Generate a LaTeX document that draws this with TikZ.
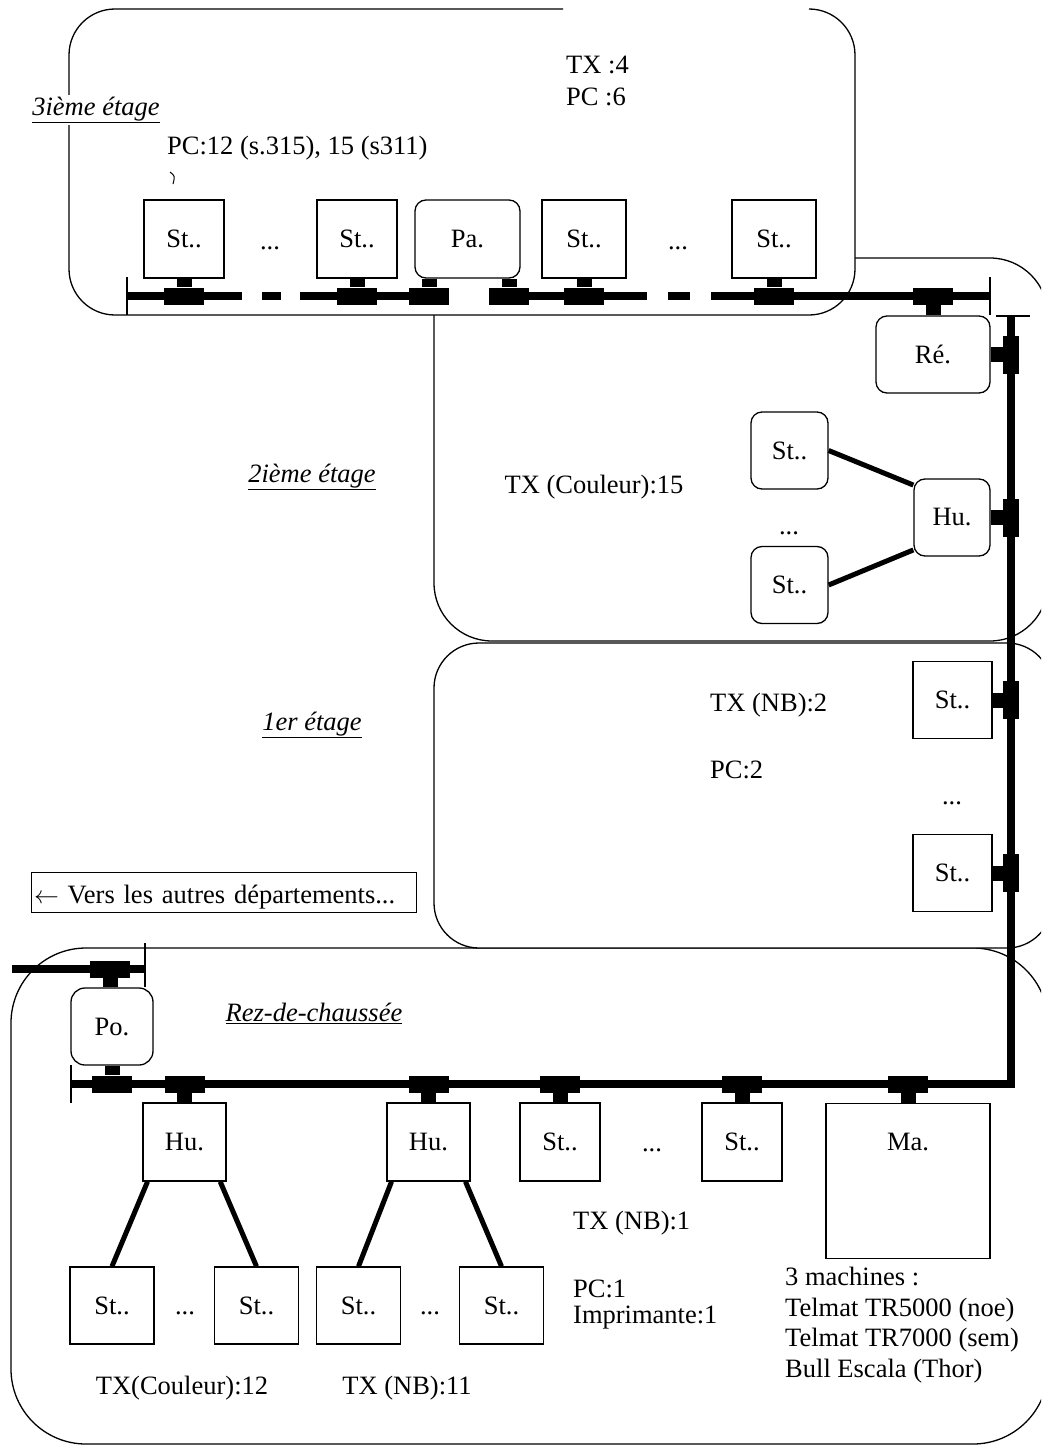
\documentclass[tikz,border=0pt]{standalone}
\usepackage{fontspec}
\setmainfont{Liberation Serif}

\begin{document}
\begin{tikzpicture}[x=1pt, y=-1pt, inner sep=0pt, font=\fontsize{26.5}{30.5}\selectfont,
  region/.style={draw, line width=1.3pt, fill=white},
  sta/.style={draw, line width=1.3pt, minimum width=80pt, minimum height=78pt},
  rsta/.style={sta, rounded corners=11pt},
  bus/.style={line width=8pt},
  tee/.style={fill, minimum width=40pt, minimum height=17pt},
  vtee/.style={fill, minimum width=16pt, minimum height=38pt},
  stem/.style={line width=15pt},
  link/.style={line width=5pt},
  term/.style={line width=1.3pt},
  etage/.style={fill=white, inner sep=2pt}]
  \useasboundingbox (0,0) rectangle (1041,1445);
  \clip (0,0) rectangle (1041,1445);

  % les etages
  \draw[region, rounded corners=75pt] (11,948) rectangle (1048,1444);
  \draw[region, rounded corners=45pt] (434,643) rectangle (1052,948);
  \draw[region, rounded corners=58pt] (434,258) rectangle (1048,641);
  \fill[white, rounded corners=46pt] (69,9) rectangle (855,315);
  \draw[line width=1.3pt, rounded corners=46pt] (563,9) -- (69,9) -- (69,315) -- (855,315) -- (855,9) -- (809,9);

  \node[etage] (e3) at (96,110) {\underline{\itshape 3ième étage}};
  \node (e2) at (312,477) {\underline{\itshape 2ième étage}};
  \node (e1) at (312,725) {\underline{\itshape 1er étage}};
  \node (e0) at (314,1013) {\underline{\itshape Rez-de-chaussée}};

  % textes
  \node[anchor=west] (tx3) at (566,65) {TX :4};
  \node[anchor=west] (pc3) at (566,97) {PC :6};
  \node[anchor=west] (pc3b) at (167,148) {PC:12 (s.315), 15 (s311)};
  \draw[line width=1pt] (170,172) .. controls (175,176) .. (173,184);
  \node (tx2) at (594,487) {TX (Couleur):15};
  \node[anchor=west] (tx1) at (710,705) {TX (NB):2};
  \node[anchor=west] (pc1) at (710,770) {PC:2};
  \node[draw, line width=1pt, inner sep=3pt, text width=379pt, align=left, minimum height=40pt, text height=25pt, text depth=2pt] (vers) at (223.5,892) {$\leftarrow$ Vers les autres départements...};
  \node[anchor=west] (tx0) at (573,1223) {TX (NB):1};
  \node[anchor=west] (pc0) at (573,1289) {PC:1};
  \node[anchor=west] (im0) at (573,1318) {Imprimante:1};
  \node[anchor=west, align=left] (mach) at (785,1325) {3 machines :\\Telmat TR5000 (noe)\\Telmat TR7000 (sem)\\Bull Escala (Thor)};
  \node (txc) at (182,1388) {TX(Couleur):12};
  \node (txn) at (407,1388) {TX (NB):11};

  % 3ieme etage
  \node[sta] (s31) at (184,239) {St..};
  \node (d31) at (270,248) {...};
  \node[sta] (s32) at (357,239) {St..};
  \node[rsta, minimum width=105pt] (pa) at (467.5,239) {Pa.};
  \node[sta, minimum width=84pt] (s33) at (584,239) {St..};
  \node (d32) at (678,248) {...};
  \node[sta, minimum width=84pt] (s34) at (774,239) {St..};
  \node[rsta, minimum width=114pt, minimum height=77pt] (re) at (933,354.5) {Ré.};

  % 2ieme etage
  \node[rsta, minimum width=77pt, minimum height=77pt] (s21) at (789.5,450.5) {St..};
  \node (d21) at (789,533) {...};
  \node[rsta, minimum width=77pt, minimum height=77pt] (s22) at (789.5,585) {St..};
  \node[rsta, minimum width=76pt, minimum height=77pt] (hu2) at (952,517.5) {Hu.};

  % 1er etage
  \node[sta, minimum width=79pt, minimum height=77pt] (s11) at (952.5,700) {St..};
  \node (d11) at (952,803) {...};
  \node[sta, minimum width=79pt, minimum height=77pt] (s12) at (952.5,873) {St..};

  % rez-de-chaussee
  \node[rsta, minimum width=82pt, minimum height=77pt, rounded corners=14pt] (po) at (112,1026.5) {Po.};
  \node[sta, minimum width=83pt] (hu01) at (184.5,1142) {Hu.};
  \node[sta, minimum width=83pt] (hu02) at (428.5,1142) {Hu.};
  \node[sta] (s01) at (560,1142) {St..};
  \node (d01) at (652,1150) {...};
  \node[sta] (s02) at (742,1142) {St..};
  \node[sta, minimum width=164pt, minimum height=155pt, anchor=north] (ma) at (908,1103) {};
  \node (malb) at (908,1142) {Ma.};
  \node[sta, minimum width=84pt, minimum height=77pt] (sa) at (112,1305.5) {St..};
  \node (da) at (185,1313) {...};
  \node[sta, minimum width=84pt, minimum height=77pt] (sb) at (256.5,1305.5) {St..};
  \node[sta, minimum width=84pt, minimum height=77pt] (sc) at (358.5,1305.5) {St..};
  \node (dc) at (430,1313) {...};
  \node[sta, minimum width=84pt, minimum height=77pt] (sd) at (501.5,1305.5) {St..};

  % cables
  \coordinate (b3l) at (127,296);
  \coordinate (b3r) at (990,296);
  \coordinate (vtop) at (1011,316);
  \coordinate (corner) at (1011,1084);
  \coordinate (gl) at (71,1084);
  \coordinate (dl) at (12,969);
  \coordinate (dr) at (145,969);
  \foreach \a/\b in {128/242, 262/281, 300/448, 490/647, 668/690, 711/990} {\draw[bus] (\a,296) -- (\b,296);}
  \draw[bus] (vtop) -- (corner) -- (gl);
  \draw[bus] (dl) -- (dr);
  \draw[term] (b3l) ++(0,-19) -- ++(0,38);
  \draw[term] (b3r) ++(0,-19) -- ++(0,38);
  \draw[term] (vtop) ++(-15,0) -- ++(34,0);
  \draw[term] (gl) ++(0,-19) -- ++(0,38);
  \draw[term] (dr) ++(0,-26) -- ++(0,44);

  \foreach \n/\x in {t31/184, t32/357, t33/429, t34/509, t35/584, t36/774, t37/933} {\node[tee] (\n) at (\x,296) {};}
  \foreach \n/\y in {v1/354.5, v2/517.5, v3/700, v4/873} {\node[vtee] (\n) at (1011,\y) {};}
  \foreach \n/\x in {t01/112, t02/184.5, t03/428.5, t04/560, t05/742, t06/908} {\node[tee] (\n) at (\x,1084) {};}
  \node[tee] (t00) at (110,969) {};

  \foreach \a/\b in {s31/t31, s32/t32, s33/t35, s34/t36, re/t37, re/v1, hu2/v2, s11/v3, s12/v4, po/t01, hu01/t02, hu02/t03, s01/t04, s02/t05, ma/t06} {\draw[stem] (\a) -- (\b);}
  \draw[stem] (po.north -| t00) -- (t00);
  \draw[stem] (pa.south -| t33) -- (t33);
  \draw[stem] (pa.south -| t34) -- (t34);

  \draw[link] (s21.east) -- (hu2.140);
  \draw[link] (s22.east) -- (hu2.220);
  \draw[link] (hu01.-133) -- (sa.north);
  \draw[link] (hu01.-48) -- (sb.north);
  \draw[link] (hu02.-133) -- (sc.north);
  \draw[link] (hu02.-47) -- (sd.north);
\end{tikzpicture}
\end{document}
